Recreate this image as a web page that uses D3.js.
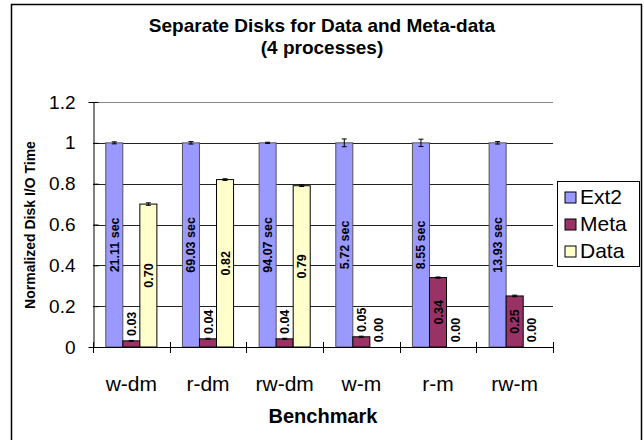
<!DOCTYPE html>
<html>
<head>
<meta charset="utf-8">
<script src="https://cdn.jsdelivr.net/npm/d3@7"></script>
<style>
  body { margin: 0; background: #fff; }
  svg { font-family: "Liberation Sans", Arial, sans-serif; }
</style>
</head>
<body>
<div class="chart"></div>
<script>
// data
const benchmarks = ["w-dm", "r-dm", "rw-dm", "w-m", "r-m", "rw-m"];
const series = ["Ext2", "Meta", "Data"];
const ext2Values = [1, 1, 1, 1, 1, 1];
const metaValues = [0.03, 0.04, 0.04, 0.05, 0.34, 0.25];
const dataValues = [0.70, 0.82, 0.79, 0.00, 0.00, 0.00];
const ext2Errors = [0.005, 0.006, 0.003, 0.019, 0.018, 0.006];
const metaErrors = [0.002, 0.003, 0.003, 0.003, 0.003, 0.004];
const dataErrors = [0.006, 0.004, 0.004, 0, 0, 0];
const ext2Seconds = ["21.11 sec", "69.03 sec", "94.07 sec", "5.72 sec", "8.55 sec", "13.93 sec"];
const yTicks = [0, 0.2, 0.4, 0.6, 0.8, 1, 1.2];
const titleLines = ["Separate Disks for Data and Meta-data", "(4 processes)"];

const colors = {Ext2: "#9999FF", Meta: "#993366", Data: "#FFFFCC"};
const strokes = {Ext2: "#555", Meta: "#000", Data: "#000"};

const width = 644, height = 440;
const plot = {left: 93, right: 553, top: 102, bottom: 347};

const rows = [];
benchmarks.forEach((b, i) => {
  rows.push({bench: b, key: "Ext2", v: ext2Values[i], err: ext2Errors[i], label: ext2Seconds[i]});
  rows.push({bench: b, key: "Meta", v: metaValues[i], err: metaErrors[i], label: d3.format(".2f")(metaValues[i])});
  rows.push({bench: b, key: "Data", v: dataValues[i], err: dataErrors[i], label: d3.format(".2f")(dataValues[i])});
});

const svg = d3.select(".chart").append("svg")
    .attr("width", width)
    .attr("height", height);

// outer frame
svg.append("rect")
    .attr("x", 11.5).attr("y", 4.5)
    .attr("width", 630).attr("height", 440)
    .attr("fill", "#fff").attr("stroke", "#000").attr("stroke-width", 1.5);

const x0 = d3.scaleBand()
    .domain(benchmarks)
    .range([plot.left, plot.right]);

const bw = x0.bandwidth();
const gap = bw * 1.5 / 4.5;
const x1 = d3.scaleBand()
    .domain(series)
    .range([gap / 2, bw - gap / 2]);

const y = d3.scaleLinear()
    .domain([0, 1.2])
    .range([plot.bottom, plot.top]);

// gridlines
svg.append("g")
  .selectAll("line")
  .data(yTicks.filter(d => d > 0))
  .join("line")
    .attr("x1", plot.left).attr("x2", plot.right)
    .attr("y1", d => Math.round(y(d)) + 0.5).attr("y2", d => Math.round(y(d)) + 0.5)
    .attr("stroke", d => d == 1.2 ? "#888" : "#222");

// bars
svg.append("g")
  .selectAll("rect")
  .data(rows)
  .join("rect")
    .attr("x", d => x0(d.bench) + x1(d.key))
    .attr("y", d => y(d.v))
    .attr("width", x1.bandwidth())
    .attr("height", d => y(0) - y(d.v))
    .attr("fill", d => colors[d.key])
    .attr("stroke", d => strokes[d.key])
    .attr("stroke-width", 1);

// error bars
const errs = svg.append("g")
  .selectAll("g")
  .data(rows.filter(d => d.err > 0))
  .join("g")
    .attr("stroke", "#000").attr("stroke-width", 1);
errs.append("line")
    .attr("x1", d => x0(d.bench) + x1(d.key) + x1.bandwidth() / 2)
    .attr("x2", d => x0(d.bench) + x1(d.key) + x1.bandwidth() / 2)
    .attr("y1", d => y(d.v + d.err)).attr("y2", d => y(d.v - d.err));
errs.selectAll("line.cap")
  .data(d => [d.v + d.err, d.v - d.err].map(e => ({d: d, e: e})))
  .join("line")
    .attr("class", "cap")
    .attr("x1", p => x0(p.d.bench) + x1(p.d.key) + x1.bandwidth() / 2 - 2.5)
    .attr("x2", p => x0(p.d.bench) + x1(p.d.key) + x1.bandwidth() / 2 + 2.5)
    .attr("y1", p => y(p.e)).attr("y2", p => y(p.e));

// value labels, rotated; short bars get the label above them
svg.append("g")
  .selectAll("text")
  .data(rows)
  .join("text")
    .attr("font-size", "12.5px")
    .attr("font-weight", "bold")
    .attr("fill", "#000")
    .attr("text-anchor", "middle")
    .attr("transform", function(d) {
      const cx = x0(d.bench) + x1(d.key) + x1.bandwidth() / 2 + 4.5;
      const len = d.label.length * 7;
      const h = y(0) - y(d.v);
      let cy = y(d.v / 2);
      if (len + 4 > h) cy = y(d.v) - 3 - len / 2;
      return `translate(${cx},${cy}) rotate(-90)`;
    })
    .text(d => d.label);

// y axis
const yAxis = svg.append("g")
    .attr("transform", `translate(${plot.left + 0.5},0)`)
    .call(d3.axisLeft(y).tickValues(yTicks).tickSize(5).tickPadding(13).tickFormat(d3.format("~g")));
yAxis.select(".domain").attr("stroke", "#000");
yAxis.selectAll(".tick line").attr("x2", 5).attr("stroke", "#000");
yAxis.selectAll(".tick text")
    .style("font-size", "19px")
    .attr("font-family", "Liberation Sans, Arial, sans-serif")
    .attr("fill", "#000");

// x axis line with ticks at category boundaries
svg.append("line")
    .attr("x1", plot.left).attr("x2", plot.right)
    .attr("y1", plot.bottom + 0.5).attr("y2", plot.bottom + 0.5)
    .attr("stroke", "#000");
svg.append("g")
  .selectAll("line")
  .data(benchmarks.map(b => x0(b)).concat([x0(benchmarks[benchmarks.length - 1]) + bw]))
  .join("line")
    .attr("x1", d => Math.round(d) + 0.5).attr("x2", d => Math.round(d) + 0.5)
    .attr("y1", plot.bottom - 5).attr("y2", plot.bottom + 6)
    .attr("stroke", "#000");

// category labels
svg.append("g")
  .selectAll("text")
  .data(benchmarks)
  .join("text")
    .attr("x", d => x0(d) + bw / 2)
    .attr("y", 391)
    .attr("text-anchor", "middle")
    .attr("font-size", "21px")
    .text(d => d);

// axis titles
svg.append("text")
    .attr("x", 323).attr("y", 423)
    .attr("text-anchor", "middle")
    .attr("font-size", "20px").attr("font-weight", "bold")
    .text("Benchmark");

svg.append("text")
    .attr("transform", "translate(35,225) rotate(-90)")
    .attr("text-anchor", "middle")
    .attr("font-size", "14px").attr("font-weight", "bold")
    .text("Normalized Disk I/O Time");

// title
svg.append("g")
  .selectAll("text")
  .data(titleLines)
  .join("text")
    .attr("x", 322)
    .attr("y", (d, i) => 32 + i * 22)
    .attr("text-anchor", "middle")
    .attr("font-size", "19px").attr("font-weight", "bold")
    .text(d => d);

// legend
const legend = svg.append("g");
legend.append("rect")
    .attr("x", 557.5).attr("y", 181.5)
    .attr("width", 82).attr("height", 85)
    .attr("fill", "#fff").attr("stroke", "#000");
const items = legend.selectAll("g")
  .data(series)
  .join("g")
    .attr("transform", (d, i) => `translate(565,${192 + i * 27})`);
items.append("rect")
    .attr("width", 11).attr("height", 11)
    .attr("fill", d => colors[d]).attr("stroke", "#000");
items.append("text")
    .attr("x", 15).attr("y", 12)
    .attr("font-size", "21px")
    .text(d => d);
</script>
</body>
</html>
